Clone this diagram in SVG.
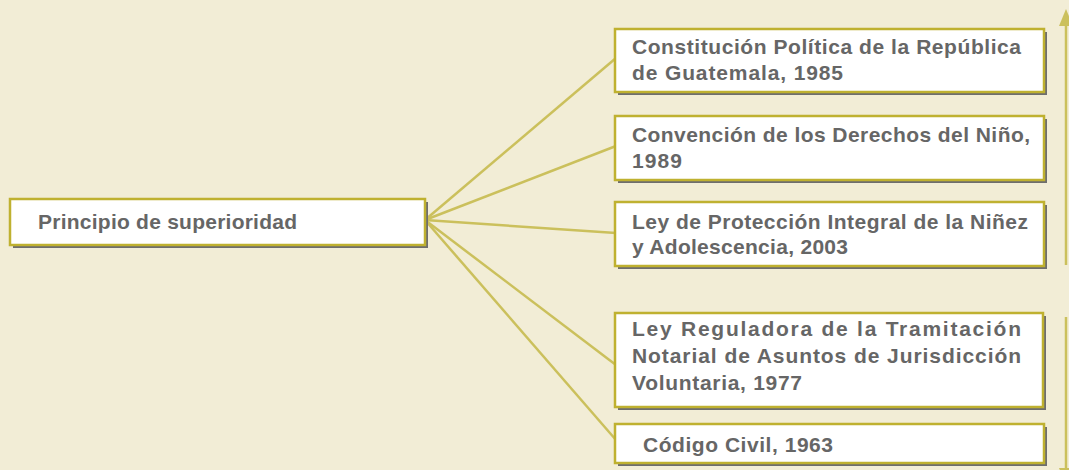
<svg xmlns="http://www.w3.org/2000/svg" width="1069" height="470" viewBox="0 0 1069 470">
<defs>
<style>
.bg{fill:#f2edd6}
.shadow{fill:#6e6e6e}
.box{fill:#ffffff;stroke:#bfb130;stroke-width:2.5}
.t{font-family:"Liberation Sans",Arial,sans-serif;font-weight:bold;font-size:21px;fill:#666666}
.conn{stroke:#cbc05c;stroke-width:2.5;fill:none}
.arr{stroke:#cbc05c;stroke-width:2.5;fill:none}
.head{fill:#cbc05c}
</style>
</defs>
<rect class="bg" x="0" y="0" width="1069" height="470"/>

<g id="connectors">
<line class="conn" x1="425" y1="220" x2="616" y2="58"/>
<line class="conn" x1="425" y1="220" x2="616" y2="146"/>
<line class="conn" x1="425" y1="220" x2="616" y2="233"/>
<line class="conn" x1="425" y1="220" x2="616" y2="365"/>
<line class="conn" x1="425" y1="220" x2="616" y2="440"/>
<line class="arr" x1="1066" y1="265" x2="1066" y2="24"/>
<polygon class="head" points="1066,9 1059,26 1073,26"/>
<line class="arr" x1="1066" y1="317" x2="1066" y2="470"/>
<polygon class="head" points="1059,468 1073,468 1066,485"/>
</g>

<g id="node-principio">
<rect class="shadow" x="13" y="202" width="415" height="46"/>
<rect class="box" x="10" y="199" width="415" height="46"/>
<text class="t" x="38" y="229" font-size="22" textLength="259" lengthAdjust="spacing">Principio de superioridad</text>
</g>

<g id="node-constitucion">
<rect class="shadow" x="618" y="32" width="429" height="63"/>
<rect class="box" x="615" y="29" width="429" height="63"/>
<text class="t" x="632" y="54" textLength="389" lengthAdjust="spacing">Constitución Política de la República</text>
<text class="t" x="632" y="80" textLength="211" lengthAdjust="spacing">de Guatemala, 1985</text>
</g>

<g id="node-convencion">
<rect class="shadow" x="618" y="119" width="429" height="64"/>
<rect class="box" x="615" y="116" width="429" height="64"/>
<text class="t" x="632" y="142" textLength="398" lengthAdjust="spacing">Convención de los Derechos del Niño,</text>
<text class="t" x="632" y="168" textLength="50" lengthAdjust="spacing">1989</text>
</g>

<g id="node-ley-proteccion">
<rect class="shadow" x="618" y="205" width="429" height="64"/>
<rect class="box" x="615" y="202" width="429" height="64"/>
<text class="t" x="632" y="229" textLength="396" lengthAdjust="spacing">Ley de Protección Integral de la Niñez</text>
<text class="t" x="632" y="254" textLength="216" lengthAdjust="spacing">y Adolescencia, 2003</text>
</g>

<g id="node-ley-reguladora">
<rect class="shadow" x="618" y="316" width="428" height="94"/>
<rect class="box" x="615" y="313" width="428" height="94"/>
<text class="t" x="632" y="336" textLength="389" lengthAdjust="spacing">Ley Reguladora de la Tramitación</text>
<text class="t" x="632" y="363" textLength="389" lengthAdjust="spacing">Notarial de Asuntos de Jurisdicción</text>
<text class="t" x="632" y="390" textLength="170" lengthAdjust="spacing">Voluntaria, 1977</text>
</g>

<g id="node-codigo-civil">
<rect class="shadow" x="618" y="427" width="429" height="39"/>
<rect class="box" x="615" y="424" width="429" height="39"/>
<text class="t" x="643" y="452" textLength="190" lengthAdjust="spacing">Código Civil, 1963</text>
</g>
</svg>
